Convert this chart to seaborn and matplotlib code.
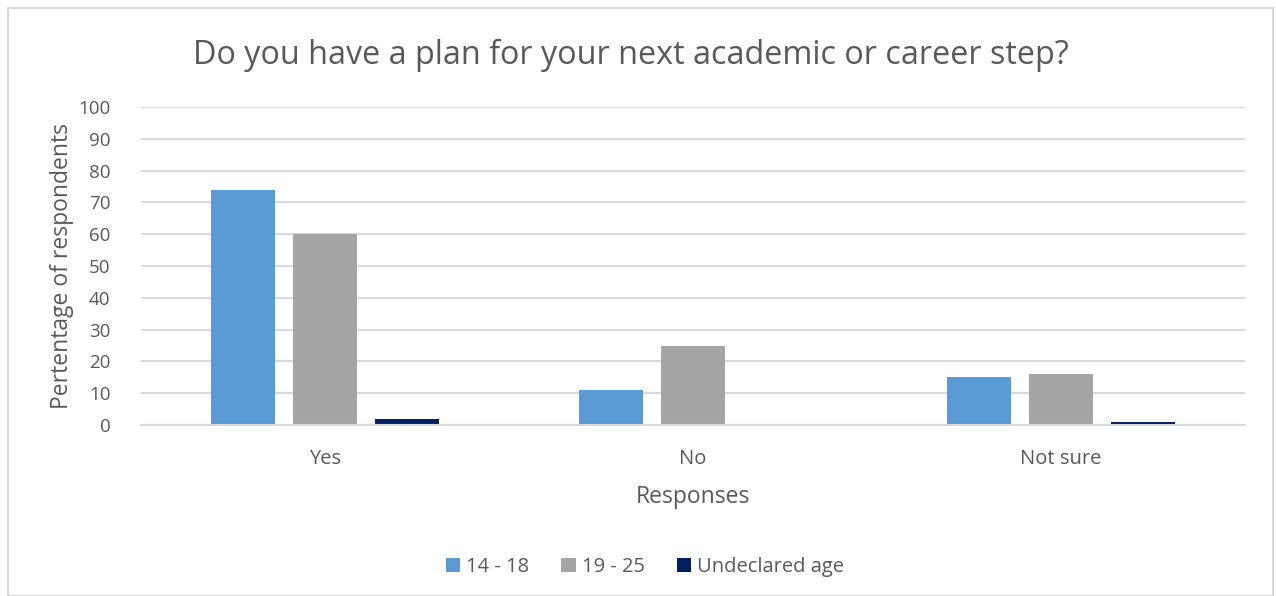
import matplotlib
matplotlib.use("Agg")
import matplotlib.pyplot as plt
import seaborn as sns
import pandas as pd
from matplotlib.patches import Rectangle

categories = ["Yes", "No", "Not sure"]
age_groups = ["14 - 18", "19 - 25", "Undeclared age"]
values_14_18 = [74, 11, 15]
values_19_25 = [60, 25, 16]
values_undeclared = [2, 0, 1]
yticks = list(range(0, 101, 10))

colors = ["#5B9BD5", "#A5A5A5", "#002060"]
text_color = "#595959"

rows = []
for g, vals in zip(age_groups, [values_14_18, values_19_25, values_undeclared]):
    for c, v in zip(categories, vals):
        rows.append({"Response": c, "Age": g, "Value": v})
df = pd.DataFrame(rows)

sns.set_theme(style="white")
plt.rcParams['font.family'] = ['Open Sans', 'DejaVu Sans']

fig = plt.figure(figsize=(12.76, 5.96), dpi=100)
ax = fig.add_axes([141/1276, 1-425/596, (1245-141)/1276, (425-107)/596])

sns.barplot(data=df, x="Response", y="Value", hue="Age", order=categories,
            hue_order=age_groups, palette=colors, width=3*82/368, gap=18/82,
            saturation=1, ax=ax, legend=True, edgecolor="none", linewidth=0)

ax.set_xlim(-0.5, 2.5)
ax.set_ylim(0, 100)
ax.set_yticks(yticks)
ax.set_yticklabels([str(t) for t in yticks])
ax.yaxis.grid(True, color="#D9D9D9", linewidth=1.5)
ax.set_axisbelow(True)
for s in ["top", "right", "left"]:
    ax.spines[s].set_visible(False)
ax.spines["bottom"].set_color("#D9D9D9")
ax.spines["bottom"].set_linewidth(1.5)
ax.tick_params(axis="both", length=0, colors=text_color)
ax.tick_params(axis="y", pad=22, labelsize=13.5)
ax.tick_params(axis="x", pad=17, labelsize=14.5)
ax.set_xlabel("Responses", fontsize=16.5, color=text_color, labelpad=12)
ax.set_ylabel("Pertentage of respondents", fontsize=16.5, color=text_color, labelpad=3)

fig.text(631/1276, 1-55/596, "Do you have a plan for your next academic or career step?",
         ha="center", va="center", fontsize=23.3, color=text_color)

handles, labels = ax.get_legend_handles_labels()
ax.legend_.remove()
fig.legend(handles, labels, loc="center", bbox_to_anchor=(645/1276, 1-567/596),
           ncol=3, frameon=False, fontsize=14.5, handlelength=0.7, handleheight=0.7,
           handletextpad=0.3, columnspacing=1.6, labelcolor=text_color)

fig.patches.append(Rectangle((8/1276, 0), (1273-8)/1276, 1-8/596, transform=fig.transFigure,
                             fill=False, edgecolor="#D9D9D9", linewidth=1.5))

fig.savefig("out.png", dpi=100, facecolor="white")
